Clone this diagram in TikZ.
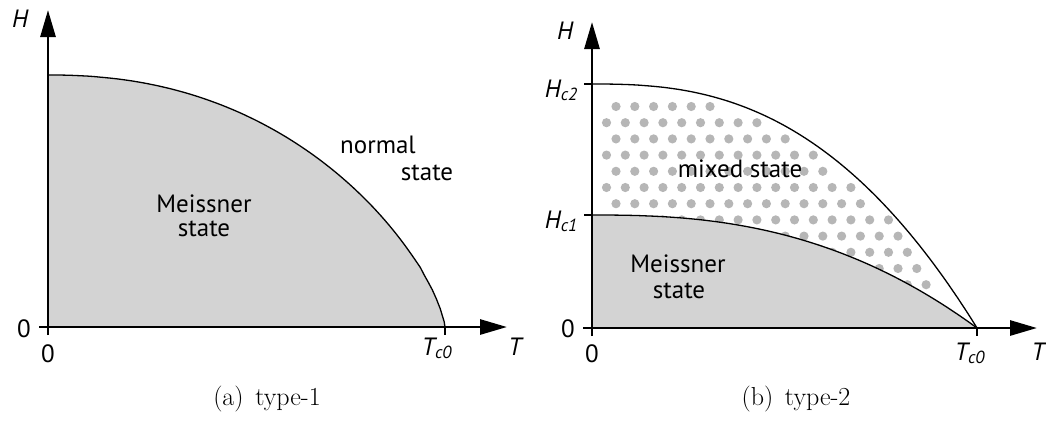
\documentclass[tikz,border=0pt]{standalone}
\usepackage{fontspec}
\setsansfont{PT Sans}
\usetikzlibrary{arrows.meta}
\definecolor{meisgray}{HTML}{D3D3D3}
\definecolor{dotgray}{HTML}{B6B6B6}
\begin{document}
\begin{tikzpicture}[x=1pt,y=-1pt,
  axisline/.style={line width=2.8pt,-{Triangle[length=27pt,width=15pt]}},
  tickline/.style={line width=1.3pt},
  curveline/.style={line width=1.3pt},
  lbl/.style={font=\sffamily\fontsize{25}{29}\selectfont,inner sep=0pt},
  ilbl/.style={font=\sffamily\itshape\fontsize{25}{29}\selectfont,inner sep=0pt},
  captxt/.style={font=\rmfamily\fontsize{26}{30}\selectfont,inner sep=0pt},
  dotfill/.style={fill=dotgray}]
\useasboundingbox (0,0) rectangle (1046,421);

% ---------------- (a) type-1 ----------------
\coordinate (A0) at (48,327);
\coordinate (AHc) at (48,75);
\coordinate (ATc) at (445,327);
\coordinate (AYtop) at (48,10);
\coordinate (AYbot) at (48,335);
\coordinate (AXleft) at (39,327);
\coordinate (AXright) at (507,327);
\fill[meisgray] (A0) -- (AHc) -- plot[domain=0.01:0.999,samples=100] ({48+397*\x},{327-252*(1-\x^2.2)^0.72}) -- (ATc) -- cycle;
\draw[curveline] (AHc) -- plot[domain=0.01:0.999,samples=100] ({48+397*\x},{327-252*(1-\x^2.2)^0.72}) -- (ATc);
\draw[axisline] (AYbot) -- (AYtop);
\draw[axisline] (AXleft) -- (AXright);
\coordinate (ATcb) at (445,335);
\draw[tickline] (ATc) -- (ATcb);

\node[ilbl] (aH) at (20,19) {H};
\node[ilbl,anchor=base] (aT) at (515,355) {T};
\node[ilbl,anchor=base] (aTc) at (437,355) {T\textsubscript{c0}};
\node[lbl,anchor=base] (a0y) at (24,337) {0};
\node[lbl,anchor=base] (a0x) at (48,362) {0};
\node[lbl,anchor=base] (aM1) at (204,212) {Meissner};
\node[lbl,anchor=base] (aM2) at (204,236) {state};
\node[lbl,anchor=base] (aN1) at (378,153) {normal};
\node[lbl,anchor=base] (aN2) at (427,180) {state};
\node[captxt,anchor=base] (capa) at (267,405) {(a)\hspace{0.45em}type-1};

% ---------------- (b) type-2 ----------------
\coordinate (B0) at (592,328);
\coordinate (BH2) at (592,84);
\coordinate (BH1) at (592,215);
\coordinate (BTc) at (977,328);
\coordinate (BYtop) at (592,22);
\coordinate (BYbot) at (592,336);
\coordinate (BXleft) at (583,328);
\coordinate (BXright) at (1037,328);

\foreach \k in {0,...,11}{
  \pgfmathsetmacro{\doty}{106.5+16.2*\k}
  \pgfmathsetmacro{\dotxs}{mod(\k,2)==1 ? 606.5 : 616}
  \foreach \n in {0,...,19}{
    \pgfmathsetmacro{\dotx}{\dotxs+18.8*\n}
    \pgfmathsetmacro{\tv}{min((\dotx-592)/385,1)}
    \pgfmathtruncatemacro{\ok}{(\doty >= 327-243*(1-\tv^2.55)+9) ? 1 : 0}
    \ifnum\ok=1 \fill[dotfill] (\dotx,\doty) circle (4.6pt);\fi
  }
}

\fill[meisgray] (B0) -- (BH1) -- plot[domain=0.01:1,samples=80] ({592+385*\x},{328-113*(1-\x^2.5)}) -- cycle;
\draw[curveline] (BH1) -- plot[domain=0.01:1,samples=80] ({592+385*\x},{328-113*(1-\x^2.5)});
\draw[curveline] (BH2) -- plot[domain=0.01:1,samples=80] ({592+385*\x},{328-244*(1-\x^2.55)});
\draw[axisline] (BYbot) -- (BYtop);
\draw[axisline] (BXleft) -- (BXright);
\coordinate (BH2l) at (584,84);
\coordinate (BH1l) at (584,215);
\coordinate (BTcb) at (977,336);
\draw[tickline] (BH2l) -- (BH2);
\draw[tickline] (BH1l) -- (BH1);
\draw[tickline] (BTc) -- (BTcb);

\node[ilbl] (bH) at (565,31) {H};
\node[ilbl,anchor=base east] (bT) at (1045,360) {T};
\node[ilbl,anchor=base] (bTc) at (970,360) {T\textsubscript{c0}};
\node[ilbl,anchor=base east] (bH2) at (578,97) {H\textsubscript{c2}};
\node[ilbl,anchor=base east] (bH1) at (578,228) {H\textsubscript{c1}};
\node[lbl,anchor=base] (b0y) at (568,337) {0};
\node[lbl,anchor=base] (b0x) at (592,362) {0};
\node[lbl,anchor=base] (bM1) at (678,272) {Meissner};
\node[lbl,anchor=base] (bM2) at (679,298) {state};
\node[lbl,anchor=base] (bX) at (740,177) {mixed state};
\node[captxt,anchor=base] (capb) at (796,405) {(b)\hspace{0.45em}type-2};
\end{tikzpicture}
\end{document}
